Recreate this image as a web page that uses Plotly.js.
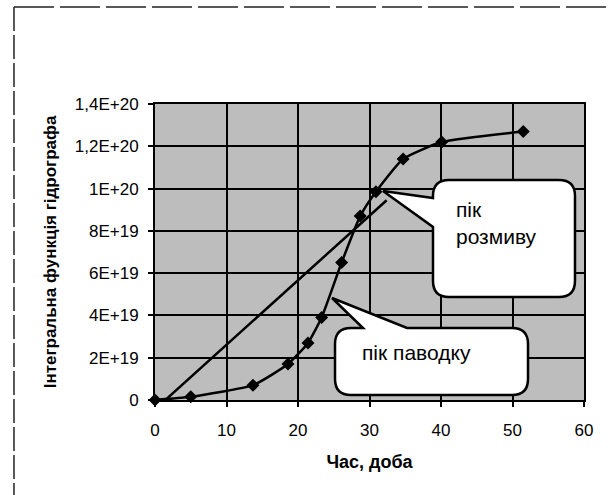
<!DOCTYPE html>
<html>
<head>
<meta charset="utf-8">
<script src="https://cdn.plot.ly/plotly-3.0.1.min.js"></script>
<style>html,body{margin:0;padding:0;background:#fff;}#chart{width:611px;height:495px;}</style>
</head>
<body>
<div id="chart"></div>
<script>
// Data
var timeDays = [0, 5, 13.7, 18.6, 21.4, 23.3, 26.1, 28.7, 30.9, 34.7, 40.1, 51.5];
var integralValues = [0, 1.5e18, 7e18, 1.7e19, 2.7e19, 3.9e19, 6.5e19, 8.7e19, 9.85e19, 1.14e20, 1.22e20, 1.27e20];
var trendX = [-1.4, 32.4];
var trendY = [-8.7e18, 9.45e19];
var xTickVals = [0, 10, 20, 30, 40, 50, 60];
var yTickVals = [0, 2e19, 4e19, 6e19, 8e19, 1e20, 1.2e20, 1.4e20];
var yTickText = ['0', '2E+19', '4E+19', '6E+19', '8E+19', '1E+20', '1,2E+20', '1,4E+20'];
var xTitle = 'Час, доба';
var yTitle = 'Інтегральна функція гідрографа';
var label1 = 'пік<br>розмиву';
var label2 = 'пік паводку';

var W = 611, H = 495;
var M = {l: 155, r: 27, t: 104, b: 95};
var pw = W - M.l - M.r, ph = H - M.t - M.b;
function px(x) { return ((x - M.l) / pw).toFixed(4); }
function py(y) { return ((M.t + ph - y) / ph).toFixed(4); }
function P(x, y) { return px(x) + ',' + py(y); }

function callout1(x0, y0, x1, y1, r, tip, b0, b1) {
  return 'M' + P(x0 + r, y0) + ' L' + P(x1 - r, y0) + ' Q' + P(x1, y0) + ' ' + P(x1, y0 + r) +
    ' L' + P(x1, y1 - r) + ' Q' + P(x1, y1) + ' ' + P(x1 - r, y1) +
    ' L' + P(x0 + r, y1) + ' Q' + P(x0, y1) + ' ' + P(x0, y1 - r) +
    ' L' + P(x0, b1) + ' L' + P(tip[0], tip[1]) + ' L' + P(x0, b0) +
    ' L' + P(x0, y0 + r) + ' Q' + P(x0, y0) + ' ' + P(x0 + r, y0) + ' Z';
}
function callout2(x0, y0, x1, y1, r, tip, a0, a1) {
  return 'M' + P(x0 + r, y0) + ' L' + P(a0, y0) + ' L' + P(tip[0], tip[1]) + ' L' + P(a1, y0) +
    ' L' + P(x1 - r, y0) + ' Q' + P(x1, y0) + ' ' + P(x1, y0 + r) +
    ' L' + P(x1, y1 - r) + ' Q' + P(x1, y1) + ' ' + P(x1 - r, y1) +
    ' L' + P(x0 + r, y1) + ' Q' + P(x0, y1) + ' ' + P(x0, y1 - r) +
    ' L' + P(x0, y0 + r) + ' Q' + P(x0, y0) + ' ' + P(x0 + r, y0) + ' Z';
}

var font = 'Liberation Sans, Arial, sans-serif';

var traces = [
  {
    x: trendX, y: trendY, mode: 'lines', type: 'scatter',
    line: {color: '#000', width: 2.5}, hoverinfo: 'skip', showlegend: false
  },
  {
    x: timeDays, y: integralValues, mode: 'lines+markers', type: 'scatter',
    line: {color: '#000', width: 2.5, shape: 'spline', smoothing: 0.5},
    marker: {symbol: 'diamond', size: 10, color: '#000'},
    cliponaxis: false, showlegend: false
  }
];

var layout = {
  width: W, height: H,
  margin: M,
  paper_bgcolor: '#fff',
  plot_bgcolor: '#bdbdbd',
  showlegend: false,
  font: {family: font, color: '#000', size: 17},
  xaxis: {
    range: [0, 60], tickvals: xTickVals, ticks: 'outside', ticklen: 5, tickwidth: 2, tickcolor: '#000',
    showgrid: true, gridcolor: '#000', gridwidth: 2, zeroline: false,
    showline: true, linecolor: '#000', linewidth: 2, mirror: true,
    ticklabelstandoff: 9,
    tickfont: {family: font, size: 17, color: '#000'},
    title: {text: xTitle, font: {family: font, size: 18, color: '#000', weight: 'bold'}, standoff: 16}
  },
  yaxis: {
    range: [0, 1.4e20], tickvals: yTickVals, ticktext: yTickText, ticks: 'outside', ticklen: 5, tickwidth: 2, tickcolor: '#000',
    showgrid: true, gridcolor: '#000', gridwidth: 2, zeroline: false,
    showline: true, linecolor: '#000', linewidth: 2, mirror: true,
    ticklabelstandoff: 6,
    tickfont: {family: font, size: 17, color: '#000'},
    title: {text: yTitle, font: {family: font, size: 17, color: '#000', weight: 'bold'}, standoff: 14}
  },
  shapes: [
    {type: 'path', xref: 'paper', yref: 'paper', layer: 'above',
     path: callout1(433, 180, 575, 297, 16, [383, 191], 198, 227),
     fillcolor: '#fff', line: {color: '#000', width: 2.5}},
    {type: 'path', xref: 'paper', yref: 'paper', layer: 'above',
     path: callout2(335, 328, 528, 395, 16, [332, 298], 363, 407),
     fillcolor: '#fff', line: {color: '#000', width: 2.5}},
    {type: 'line', xref: 'paper', yref: 'paper', x0: px(14), x1: px(14), y0: py(7), y1: py(495),
     line: {color: '#222', width: 1.5, dash: '24px,4px'}},
    {type: 'line', xref: 'paper', yref: 'paper', x0: px(14), x1: px(611), y0: py(7), y1: py(7),
     line: {color: '#222', width: 1.5, dash: '40px,6px'}}
  ],
  annotations: [
    {xref: 'paper', yref: 'paper', x: px(454), y: py(223), xanchor: 'left', yanchor: 'middle', align: 'left',
     text: label1, showarrow: false, font: {family: font, size: 21, color: '#000'}},
    {xref: 'paper', yref: 'paper', x: px(360), y: py(353), xanchor: 'left', yanchor: 'middle', align: 'left',
     text: label2, showarrow: false, font: {family: font, size: 21, color: '#000'}}
  ]
};

Plotly.newPlot('chart', traces, layout, {displayModeBar: false, staticPlot: true});
</script>
</body>
</html>
